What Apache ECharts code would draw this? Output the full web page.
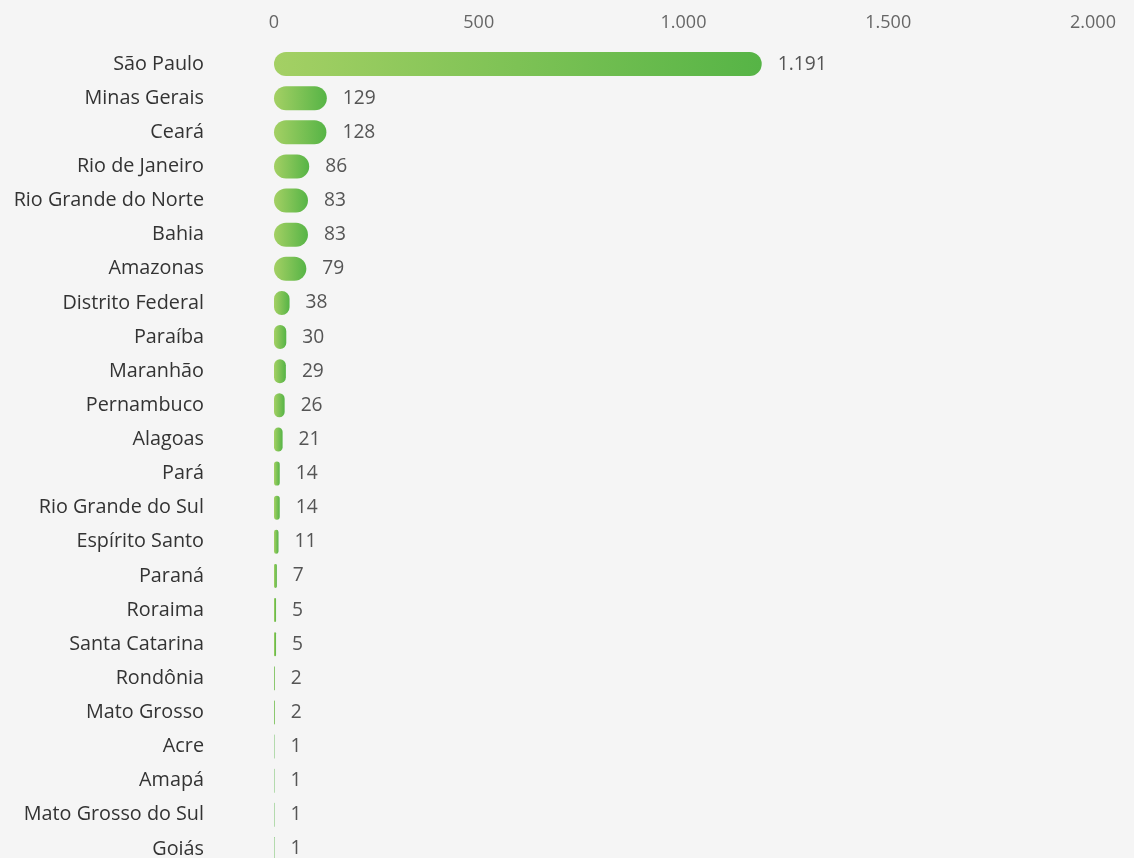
<!DOCTYPE html>
<html><head><meta charset="utf-8">
<script src="https://cdn.jsdelivr.net/npm/echarts@6/dist/echarts.min.js"></script>
<style>html,body{margin:0;padding:0;background:#f5f5f5}#c{width:1134px;height:858px}</style>
</head><body><div id="c"></div>
<script>
const categories = ["São Paulo","Minas Gerais","Ceará","Rio de Janeiro","Rio Grande do Norte","Bahia","Amazonas","Distrito Federal","Paraíba","Maranhão","Pernambuco","Alagoas","Pará","Rio Grande do Sul","Espírito Santo","Paraná","Roraima","Santa Catarina","Rondônia","Mato Grosso","Acre","Amapá","Mato Grosso do Sul","Goiás"];
const values = [1191,129,128,86,83,83,79,38,30,29,26,21,14,14,11,7,5,5,2,2,1,1,1,1];
const fmt = v => String(v).replace(/\B(?=(\d{3})+(?!\d))/g, '.');
const FONT = '"Open Sans", "Noto Sans", sans-serif';
const chart = echarts.init(document.getElementById('c'), null, {renderer:'canvas'});
chart.setOption({
  backgroundColor:'#f5f5f5',
  animation:false,
  grid:{left:274, width:819, top:47, height:819, containLabel:false, outerBoundsMode:'none'},
  xAxis:{type:'value', position:'top', min:0, max:2000, interval:500,
    axisLine:{show:false}, axisTick:{show:false}, splitLine:{show:false},
    axisLabel:{color:'#666', fontSize:18, fontFamily:FONT, margin:15, formatter:fmt}},
  yAxis:{type:'category', inverse:true, data:categories,
    axisLine:{show:false}, axisTick:{show:false},
    axisLabel:{color:'#333', fontSize:19.8, fontFamily:FONT, margin:70}},
  series:[{type:'bar', data:values, barWidth:24,
    itemStyle:{borderRadius:12, color:new echarts.graphic.LinearGradient(0,0,1,0,[{offset:0,color:'#a4d064'},{offset:1,color:'#56b446'}])},
    label:{show:true, position:'right', distance:16, color:'#555', fontSize:19.2, fontFamily:FONT, formatter:p=>fmt(p.value)}}]
});
</script></body></html>
